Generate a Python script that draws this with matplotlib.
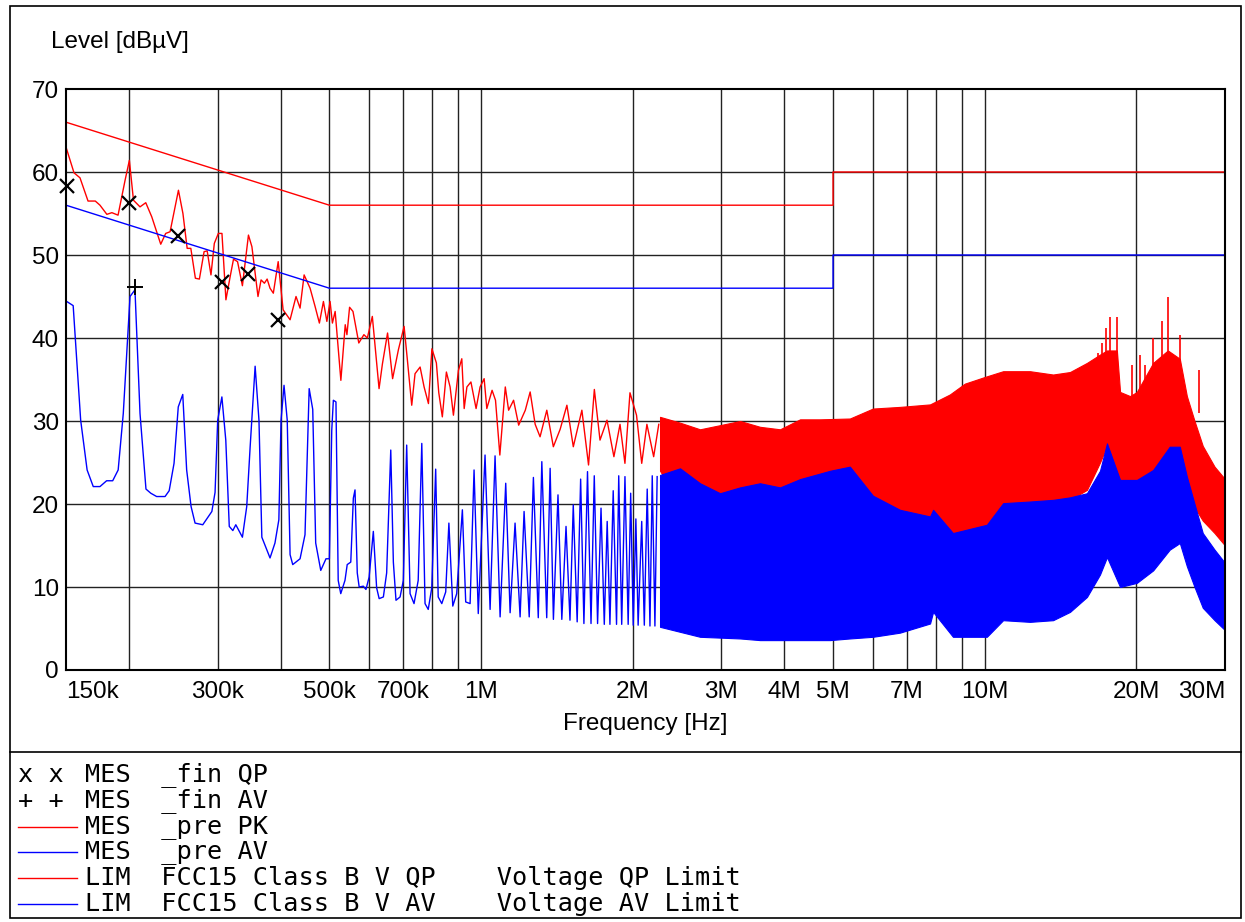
import matplotlib
matplotlib.use('Agg')
import matplotlib.pyplot as plt
from matplotlib.ticker import FixedLocator
from matplotlib.patches import Rectangle

# ---- data (frequency in kHz / MHz, level in dBuV) ----
# peak pre-scan, low band (drawn as a line)
pk_khz = [150, 155.6, 159.9, 165.9, 171.5, 175.2, 180.8, 185.0, 190.3, 196.5, 200.4, 204.2,
          210.4, 216, 222, 231.3, 236.6, 241.4, 250.8, 256, 261, 265.4, 271, 276, 282, 286,
          291, 295.5, 301, 306, 311.6, 317.7, 322.6, 328.6, 336, 345.4, 350.9, 360.8, 365.9,
          371.5, 376.2, 381.2, 387, 395.7, 404.7, 417.8, 429.3, 437.3, 445.5, 457.8, 468.4,
          477.7, 486.6, 494.3, 501.6, 507, 513.4, 527, 537.6, 541.8, 548.4, 557, 572, 585.5,
          594.8, 608.5, 627.5, 637.3, 652.4, 667.6, 685.6, 703.6, 714.4, 728.6, 739.7, 757,
          771, 786.5, 799, 815.5, 824.5, 838, 853.7, 868.3, 881.6, 902, 916, 926, 937.6, 955,
          977.8, 995.9, 1014.5, 1027, 1052, 1068.6, 1090, 1117.5, 1134.6, 1160.6, 1188,
          1224.5, 1252, 1281, 1310, 1351, 1392, 1436, 1481, 1525, 1586, 1635, 1679, 1723,
          1779, 1836, 1888, 1931, 1976, 2036, 2085, 2135, 2202, 2254]
pk_db = [63.0, 59.9, 59.3, 56.5, 56.5, 56.0, 54.9, 55.1, 54.8, 59.0, 61.4, 56.6,
         55.8, 56.3, 54.6, 51.3, 52.6, 52.8, 57.8, 55.0, 50.8, 50.8, 47.2, 47.1, 50.4, 50.5,
         47.6, 51.4, 52.6, 52.6, 44.6, 47.4, 49.5, 49.2, 46.3, 52.4, 51.0, 45.0, 47.0,
         46.6, 47.1, 46.0, 45.4, 49.2, 43.4, 42.2, 45.0, 43.6, 47.6, 46.0, 43.8,
         41.8, 44.4, 42.0, 44.4, 41.8, 43.2, 34.9, 41.6, 40.4, 43.7, 43.2, 39.4, 40.4,
         40.0, 42.6, 33.9, 36.9, 40.6, 35.1, 38.6, 41.4, 37.3, 31.9, 35.7, 36.5,
         34.1, 32.1, 38.7, 37.0, 33.4, 30.5, 35.9, 34.1, 30.7, 36.1, 37.5, 31.5, 34.1, 34.7,
         31.5, 34.1, 35.1, 31.5, 33.7, 32.5, 25.9, 34.1, 31.3, 32.5, 29.5,
         31.3, 33.5, 29.6, 28.1, 31.3, 26.9, 29.0, 31.9, 26.9, 31.3, 24.7, 33.8, 27.7,
         30.1, 25.7, 29.6, 24.9, 33.4, 30.7, 24.9, 29.6, 25.7, 29.6]

# average pre-scan, low band (drawn as a line)
av_khz = [150.5, 155, 160.4, 165.2, 169.9, 175.2, 180.6, 185.7, 190.4, 194.9, 201, 205.6,
          210.4, 216.2, 221, 227, 235.9, 240.4, 245.8, 250.6, 255.8, 260.4, 265.7, 270.6,
          280.3, 292.2, 296.5, 300.1, 305.9, 311.4, 316.4, 321.6, 326, 336, 342.7, 348.1,
          356.1, 362.4, 367.2, 381.2, 389.9, 396.9, 400.9, 406.4, 412.4, 417.8, 422.9, 437.3,
          447.3, 455.9, 463.4, 469.7, 480.7, 492.3, 500, 505.5, 509.2, 515.3, 520.6, 526.7,
          537, 542.5, 551.4, 557.9, 562.2, 568, 573, 584, 591, 599.7, 611.3, 620.6, 627.8,
          640, 649.7, 662, 669.9, 678, 690.8, 701.2, 712, 723.1, 736.3, 750.5, 762.9, 774.3,
          785.7, 798.5, 812.9, 822.3, 835.9, 851, 863.5, 879, 894.9, 918.4, 932.5, 951.4,
          968.8, 987.6, 1018.7, 1042.5, 1066.4, 1091.3, 1119.7, 1142.4, 1168.5, 1195.8,
          1217.7, 1246.6, 1270.7, 1299.3, 1320.6, 1350.5, 1371.7, 1392.4, 1421.9, 1447,
          1475.1, 1502, 1524.7, 1552.2, 1577, 1600.8, 1627.3, 1653.6, 1678.4, 1704, 1731,
          1757, 1780.5, 1803, 1830.2, 1858.2, 1877, 1902.7, 1931.2, 1959.7, 1982.3, 2005.8,
          2030, 2051, 2085, 2109.8, 2138, 2165, 2187.7, 2214.6, 2237.3]
av_db = [44.4, 43.9, 30.1, 24.1, 22.1, 22.1, 22.8, 22.8, 24.1, 30.9, 45.0, 45.8,
         30.9, 21.8, 21.3, 20.9, 20.9, 21.6, 24.9, 31.7, 33.2, 24.1, 19.7, 17.7,
         17.5, 19.1, 21.4, 30.1, 32.9, 27.7, 17.3, 16.8, 17.5, 16.0, 19.7, 26.9,
         36.6, 30.1, 16.0, 13.5, 15.3, 18.1, 30.1, 34.3, 30.1, 13.9, 12.7, 13.4,
         16.3, 33.9, 31.4, 15.3, 12.0, 13.4, 13.4, 28.9, 32.5, 32.3, 10.8, 9.2,
         10.8, 12.7, 13.0, 20.7, 21.7, 11.7, 10.0, 10.1, 9.7, 11.2, 16.7, 9.9, 8.6,
         8.8, 11.7, 26.5, 13.0, 8.4, 8.8, 10.8, 27.1, 9.2, 8.0, 10.8, 27.3, 8.0,
         7.3, 9.9, 24.2, 8.8, 8.0, 9.4, 17.7, 7.7, 9.2, 19.3, 8.2, 8.0,
         24.1, 6.8, 25.9, 7.3, 25.8, 6.4, 22.5, 6.9, 17.7, 6.4,
         19.1, 6.4, 23.2, 6.3, 25.1, 6.3, 24.3, 6.1, 21.1, 6.1,
         17.3, 6.0, 19.9, 5.8, 23.0, 5.6, 23.9, 5.6, 23.4, 5.6, 19.5,
         5.5, 17.9, 5.5, 21.6, 5.5, 23.4, 5.5, 23.3, 5.5, 21.3, 5.4,
         18.2, 5.4, 17.9, 5.4, 21.8, 5.3, 23.4, 5.3, 23.3]

# peak pre-scan, dense band above ~2.3 MHz: lower / upper envelope
pk_env_mhz = [2.267, 2.484, 2.722, 2.983, 3.268, 3.581, 3.924, 4.30, 4.71, 5.40, 6.0, 6.79,
              7.79, 8.53, 9.13, 10.0, 10.88, 12.30, 13.67, 14.77, 15.96, 16.94, 17.49, 18.3,
              18.57, 19.44, 20.05, 21.6, 23.1, 24.4, 25.2, 26.1, 27.1, 28.6, 30.0]
pk_env_hi = [30.5, 29.8, 29.0, 29.5, 30.0, 29.3, 29.0, 30.2, 30.2, 30.3, 31.5, 31.7,
             32.0, 33.2, 34.5, 35.3, 36.0, 36.0, 35.6, 35.9, 37.0, 38.0, 38.5, 38.5,
             33.5, 33.0, 33.5, 37.0, 38.5, 37.5, 33.0, 30.0, 27.0, 24.5, 23.0]
pk_env_lo = [24.0, 20.0, 18.4, 17.2, 16.9, 16.0, 14.8, 14.2, 14.3, 14.5, 15.0, 15.2,
             15.3, 14.8, 14.5, 14.5, 16.5, 18.5, 19.5, 20.5, 21.7, 25.0, 27.0, 23.0,
             22.0, 21.0, 20.5, 22.0, 25.0, 26.0, 22.0, 19.6, 18.0, 16.5, 15.0]

# isolated tall peaks sticking out of the dense band
spike_mhz = [16.78, 17.07, 17.43, 17.73, 18.28, 19.59, 20.33, 20.79, 21.6, 22.5, 23.1, 24.4, 26.6]
spike_top = [38.2, 39.4, 41.2, 42.5, 42.5, 36.7, 38.0, 36.7, 40.0, 42.0, 45.0, 40.4, 36.1]
spike_base = [36.0, 37.0, 37.0, 37.0, 37.0, 33.0, 33.0, 34.0, 36.0, 37.0, 38.0, 37.0, 31.0]

# average pre-scan, dense band above ~2.3 MHz: lower / upper envelope
av_env_mhz = [2.267, 2.484, 2.722, 2.983, 3.268, 3.581, 3.924, 4.30, 4.93, 5.40, 6.0, 6.79,
              7.79, 7.9, 8.65, 10.1, 10.88, 12.3, 13.67, 14.77, 15.96, 16.94, 17.49, 18.57,
              20.05, 21.6, 23.3, 24.4, 25.2, 26.1, 27.1, 28.6, 30.0]
av_env_hi = [23.5, 24.3, 22.5, 21.3, 22.0, 22.5, 22.0, 23.0, 24.0, 24.5, 21.0, 19.3,
             18.5, 19.3, 16.5, 17.5, 20.1, 20.3, 20.5, 20.8, 21.3, 24.0, 27.3, 22.9,
             22.9, 24.1, 26.9, 26.9, 23.3, 20.0, 16.5, 14.5, 12.9]
av_env_lo = [5.2, 4.6, 4.0, 3.9, 3.8, 3.6, 3.6, 3.6, 3.6, 3.8, 4.0, 4.5,
             5.6, 7.0, 4.0, 4.0, 6.0, 5.8, 6.0, 7.0, 8.8, 11.5, 13.6, 10.0,
             10.5, 12.0, 14.5, 15.3, 12.5, 10.0, 7.5, 6.0, 4.8]

# final measurements
qp_khz = [150.5, 200.4, 250.6, 305.9, 345.1, 395.6]
qp_db = [58.3, 56.3, 52.3, 46.7, 47.7, 42.2]
av_fin_khz = [205.6]
av_fin_db = [46.1]

# FCC part 15 class B limits
lim_khz = [150, 500, 500, 5000, 5000, 30000]
lim_qp = [66, 56, 56, 56, 60, 60]
lim_av = [56, 46, 46, 46, 50, 50]

tick_hz = [150e3, 300e3, 500e3, 700e3, 1e6, 2e6, 3e6, 4e6, 5e6, 7e6, 10e6, 20e6, 30e6]
tick_txt = ['150k', '300k', '500k', '700k', '1M', '2M', '3M', '4M', '5M', '7M', '10M', '20M', '30M']
grid_hz = [200e3, 300e3, 400e3, 500e3, 600e3, 700e3, 800e3, 900e3,
           1e6, 2e6, 3e6, 4e6, 5e6, 6e6, 7e6, 8e6, 9e6, 10e6, 20e6]

legend_rows = [
    ('x x', None, 'MES  _fin QP'),
    ('+ +', None, 'MES  _fin AV'),
    (None, '#ff0000', 'MES  _pre PK'),
    (None, '#0000ff', 'MES  _pre AV'),
    (None, '#ff0000', 'LIM  FCC15 Class B V QP    Voltage QP Limit'),
    (None, '#0000ff', 'LIM  FCC15 Class B V AV    Voltage AV Limit'),
]

W, H = 1245, 922
sans = 'Liberation Sans'
mono = 'DejaVu Sans Mono'
RED = '#ff0000'
BLUE = '#0000ff'
FS = 17.5

fig = plt.figure(figsize=(W / 100, H / 100), dpi=100)
ax = fig.add_axes([66 / W, 1 - 670 / H, (1225 - 66) / W, (670 - 89) / H])

# grid
for g in grid_hz:
    ax.axvline(g, color='#222222', lw=1.0, zorder=0.5)
for v in range(10, 70, 10):
    ax.axhline(v, color='#222222', lw=1.0, zorder=0.5)

# traces
ax.plot([f * 1e3 for f in pk_khz], pk_db, color=RED, lw=1.0)
ax.fill_between([f * 1e6 for f in pk_env_mhz], pk_env_lo, pk_env_hi, color=RED, lw=0.8)
ax.vlines([f * 1e6 for f in spike_mhz], spike_base, spike_top, color=RED, lw=1.2)
ax.plot([f * 1e3 for f in av_khz], av_db, color=BLUE, lw=1.0)
ax.fill_between([f * 1e6 for f in av_env_mhz], av_env_lo, av_env_hi, color=BLUE, lw=0.8)

# limits
ax.plot([f * 1e3 for f in lim_khz], lim_qp, color=RED, lw=1.0)
ax.plot([f * 1e3 for f in lim_khz], lim_av, color=BLUE, lw=1.0)

# final measurement markers
ax.plot([f * 1e3 for f in qp_khz], qp_db, ls='none', marker='x', ms=10, mew=1.6,
        color='black', clip_on=False, zorder=5)
ax.plot([f * 1e3 for f in av_fin_khz], av_fin_db, ls='none', marker='+', ms=12, mew=1.4,
        color='black', clip_on=False, zorder=5)

ax.set_xscale('log')
ax.set_xlim(150e3, 30e6)
ax.set_ylim(0, 70)
ax.xaxis.set_major_locator(FixedLocator(tick_hz))
ax.xaxis.set_minor_locator(FixedLocator([]))
ax.set_xticklabels(tick_txt)
ax.set_yticks(range(0, 71, 10))
ax.tick_params(which='both', length=0)
ax.tick_params(axis='x', pad=8, labelsize=FS)
ax.tick_params(axis='y', pad=5, labelsize=FS)
for lab in ax.get_xticklabels() + ax.get_yticklabels():
    lab.set_fontfamily(sans)
labels = ax.get_xticklabels()
labels[0].set_horizontalalignment('left')
labels[-1].set_horizontalalignment('right')
for s in ax.spines.values():
    s.set_linewidth(1.5)

fig.text(51 / W, 1 - 42 / H, 'Level [dBµV]', fontsize=FS, family=sans, va='center', ha='left')
fig.text(645.5 / W, 1 - 724 / H, 'Frequency [Hz]', fontsize=FS, family=sans,
         va='center', ha='center')

# frame and legend drawn in pixel coordinates
ov = fig.add_axes([0, 0, 1, 1], zorder=-1)
ov.set_xlim(0, W)
ov.set_ylim(H, 0)
ov.axis('off')
ov.add_patch(Rectangle((10, 6), 1231, 912, fill=False, lw=1.2, color='black'))
ov.plot([10, 1241], [752, 752], color='black', lw=1.2)

row_y = [775, 801, 827, 852, 878, 904]
for (sym, col, txt), y in zip(legend_rows, row_y):
    if sym:
        ov.text(18, y, sym, family=mono, fontsize=18.2, va='center', ha='left')
    else:
        ov.plot([18, 77], [y, y], color=col, lw=1.0)
    ov.text(85, y, txt, family=mono, fontsize=18.2, va='center', ha='left')

fig.savefig('out.png', dpi=100, facecolor='white')
